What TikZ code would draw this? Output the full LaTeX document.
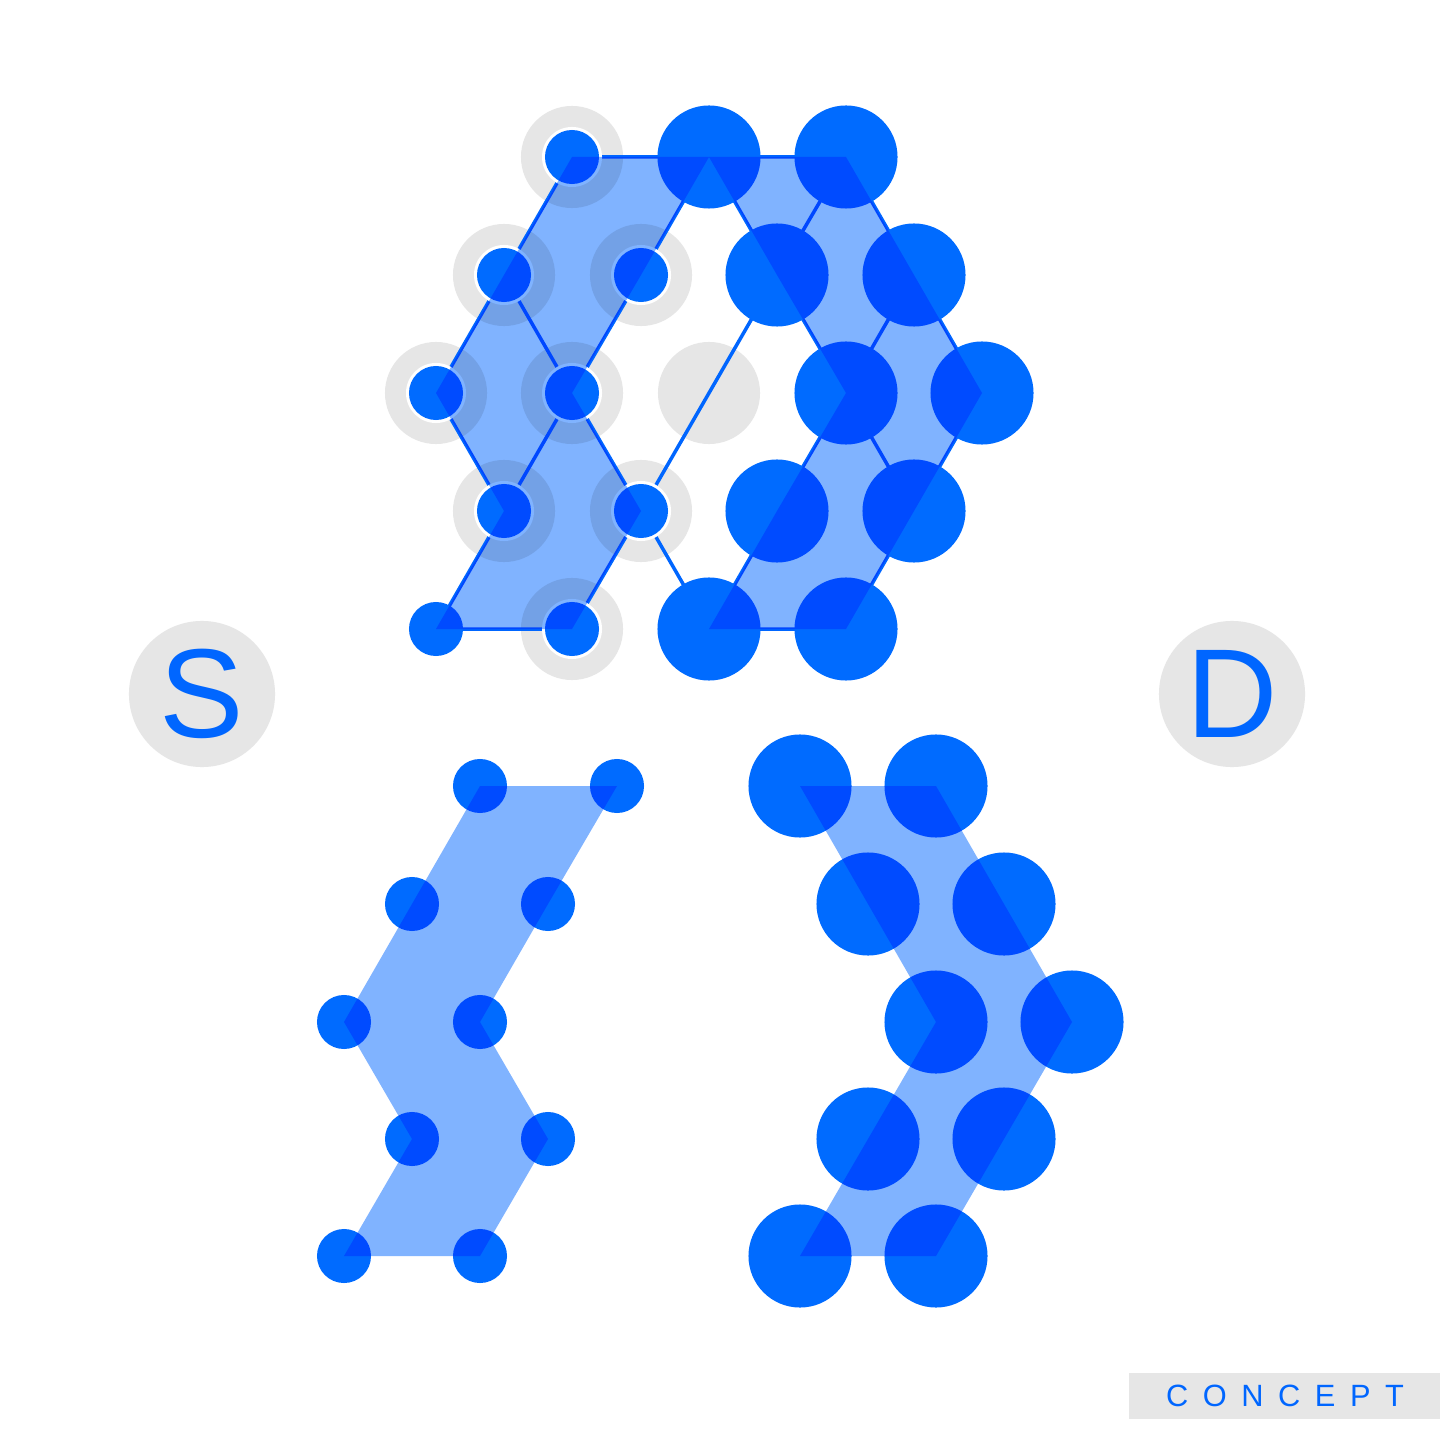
\documentclass[tikz,border=0pt]{standalone}
\usepackage{fontspec}
\usepackage{tikz}
\newfontfamily\badgefont{Liberation Sans}
\newfontfamily\tagfont[LetterSpace=47.4]{Liberation Sans}
\definecolor{dotBlue}{HTML}{006BFF}
\definecolor{lineBlue}{HTML}{0066FF}
\definecolor{bandBlue}{HTML}{80B3FF}
\definecolor{haloGray}{HTML}{E6E6E6}
\tikzstyle{halo} = [circle, fill=haloGray, minimum size=1.02cm, inner sep=0pt]
\tikzstyle{rim} = [circle, fill=white, minimum size=0.6cm, inner sep=0pt]
\tikzstyle{srcDot} = [circle, fill=dotBlue, minimum size=0.54cm, inner sep=0pt]
\tikzstyle{dstDot} = [circle, fill=dotBlue, minimum size=1.03cm, inner sep=0pt]
\tikzstyle{link} = [draw=lineBlue, line width=0.35mm]
\tikzstyle{band} = [fill=bandBlue]
\tikzstyle{badge} = [circle, fill=haloGray, minimum size=1.46cm, inner sep=0pt, text=lineBlue, font=\badgefont\fontsize{36}{36}\selectfont]
\tikzstyle{tag} = [text=lineBlue, inner sep=0pt, font=\tagfont\fontsize{8.75}{9}\selectfont]

\begin{document}
\begin{tikzpicture}[x=0.01cm, y=-0.01cm]
    \useasboundingbox (0,0) rectangle (1440,1440);
    \fill[white] (0,0) rectangle (1440,1440);

    % Top lattice: source part
    \coordinate (ts1) at (572,157);
    \coordinate (ts3) at (504,275);
    \coordinate (ts4) at (641,275);
    \coordinate (ts5) at (436,393);
    \coordinate (ts6) at (572,393);
    \coordinate (ts7) at (504,511);
    \coordinate (ts8) at (641,511);
    \coordinate (ts9) at (436,629);
    \coordinate (ts10) at (572,629);
    \coordinate (gap) at (709,393);

    % Top lattice: destination part
    \coordinate (td1) at (709,157);
    \coordinate (td2) at (846,157);
    \coordinate (td3) at (777,275);
    \coordinate (td4) at (914,275);
    \coordinate (td5) at (846,393);
    \coordinate (td6) at (982,393);
    \coordinate (td7) at (777,511);
    \coordinate (td8) at (914,511);
    \coordinate (td9) at (709,629);
    \coordinate (td10) at (846,629);

    % Halos
    \node[halo] (h1) at (ts1) {};
    \node[halo] (h3) at (ts3) {};
    \node[halo] (h4) at (ts4) {};
    \node[halo] (h5) at (ts5) {};
    \node[halo] (h6) at (ts6) {};
    \node[halo] (h7) at (ts7) {};
    \node[halo] (h8) at (ts8) {};
    \node[halo] (h10) at (ts10) {};
    \node[halo] (hgap) at (gap) {};

    % Links
    \draw[link] (ts1) -- (td1) -- (ts4) -- (ts6) -- (ts8) -- (ts10) -- (ts9) -- (ts7) -- (ts5) -- (ts3) -- cycle; % source outline
    \draw[link] (td1) -- (td2) -- (td4) -- (td6) -- (td8) -- (td10) -- (td9) -- (td7) -- (td5) -- (td3) -- cycle; % destination outline
    \draw[link] (ts3) -- (ts6) -- (ts7);
    \draw[link] (ts8) -- (gap) -- (td3);
    \draw[link] (ts8) -- (td9);
    \draw[link] (td2) -- (td3);
    \draw[link] (td4) -- (td5) -- (td8);

    % Source dots
    \node[rim] (r1) at (ts1) {};
    \node[rim] (r3) at (ts3) {};
    \node[rim] (r4) at (ts4) {};
    \node[rim] (r5) at (ts5) {};
    \node[rim] (r6) at (ts6) {};
    \node[rim] (r7) at (ts7) {};
    \node[rim] (r8) at (ts8) {};
    \node[rim] (r10) at (ts10) {};
    \node[srcDot] (s1) at (ts1) {};
    \node[srcDot] (s3) at (ts3) {};
    \node[srcDot] (s4) at (ts4) {};
    \node[srcDot] (s5) at (ts5) {};
    \node[srcDot] (s6) at (ts6) {};
    \node[srcDot] (s7) at (ts7) {};
    \node[srcDot] (s8) at (ts8) {};
    \node[srcDot] (s9) at (ts9) {};
    \node[srcDot] (s10) at (ts10) {};

    % Destination dots
    \node[dstDot] (d1) at (td1) {};
    \node[dstDot] (d2) at (td2) {};
    \node[dstDot] (d3) at (td3) {};
    \node[dstDot] (d4) at (td4) {};
    \node[dstDot] (d5) at (td5) {};
    \node[dstDot] (d6) at (td6) {};
    \node[dstDot] (d7) at (td7) {};
    \node[dstDot] (d8) at (td8) {};
    \node[dstDot] (d9) at (td9) {};
    \node[dstDot] (d10) at (td10) {};

    % Bottom left: source shape
    \node[srcDot] (bs1) at (480,786) {};
    \node[srcDot] (bs2) at (617,786) {};
    \node[srcDot] (bs3) at (412,904) {};
    \node[srcDot] (bs4) at (548,904) {};
    \node[srcDot] (bs5) at (344,1022) {};
    \node[srcDot] (bs6) at (480,1022) {};
    \node[srcDot] (bs7) at (412,1139) {};
    \node[srcDot] (bs8) at (548,1139) {};
    \node[srcDot] (bs9) at (344,1256) {};
    \node[srcDot] (bs10) at (480,1256) {};

    % Bottom right: destination shape
    \node[dstDot] (bd1) at (800,786) {};
    \node[dstDot] (bd2) at (936,786) {};
    \node[dstDot] (bd3) at (868,904) {};
    \node[dstDot] (bd4) at (1004,904) {};
    \node[dstDot] (bd5) at (936,1022) {};
    \node[dstDot] (bd6) at (1072,1022) {};
    \node[dstDot] (bd7) at (868,1139) {};
    \node[dstDot] (bd8) at (1004,1139) {};
    \node[dstDot] (bd9) at (800,1256) {};
    \node[dstDot] (bd10) at (936,1256) {};

    % Bands
    \begin{scope}[blend mode=multiply]
        \fill[band] (ts1) -- (td1) -- (ts4) -- (ts6) -- (ts8) -- (ts10) -- (ts9) -- (ts7) -- (ts5) -- (ts3) -- cycle;
        \fill[band] (td1) -- (td2) -- (td4) -- (td6) -- (td8) -- (td10) -- (td9) -- (td7) -- (td5) -- (td3) -- cycle;
        \fill[band] (bs1.center) -- (bs2.center) -- (bs4.center) -- (bs6.center) -- (bs8.center) -- (bs10.center) -- (bs9.center) -- (bs7.center) -- (bs5.center) -- (bs3.center) -- cycle;
        \fill[band] (bd1.center) -- (bd2.center) -- (bd4.center) -- (bd6.center) -- (bd8.center) -- (bd10.center) -- (bd9.center) -- (bd7.center) -- (bd5.center) -- (bd3.center) -- cycle;
    \end{scope}

    % Badges
    \node[badge] (src) at (202,694) {S};
    \node[badge] (dst) at (1232,694) {D};

    % Tag
    \fill[haloGray] (1129,1373) rectangle (1440,1419);
    \node[tag] (concept) at (1285,1396) {CONCEPT};
\end{tikzpicture}
\end{document}
